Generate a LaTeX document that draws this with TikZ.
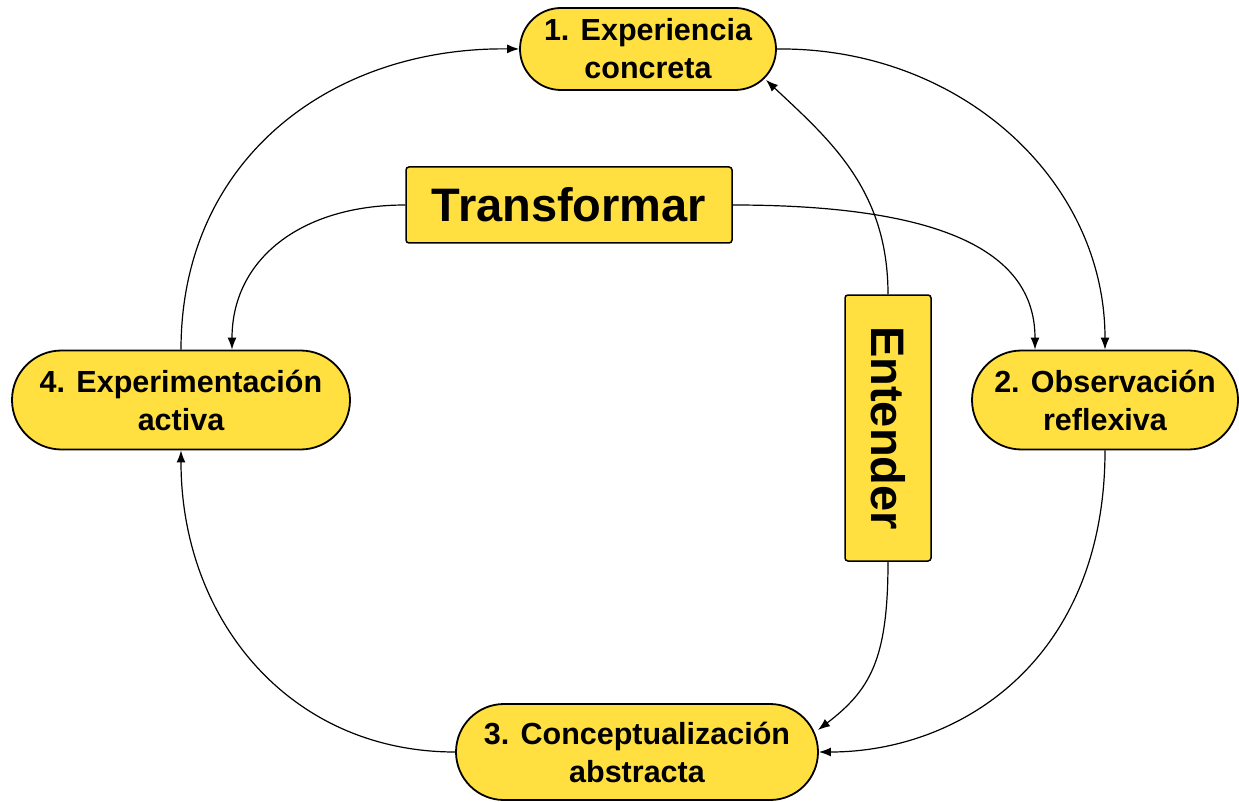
\documentclass[tikz,border=0pt]{standalone}
\usepackage{fontspec}
\setmainfont{Liberation Sans}
\usetikzlibrary{shapes.misc,arrows.meta}
\definecolor{pill}{RGB}{255,224,64}
\begin{document}
\begin{tikzpicture}[x=1pt,y=-1pt,
 pillbox/.style={rounded rectangle, draw=black, line width=1.8pt, fill=pill, align=center,
   font=\fontsize{30.5}{38}\selectfont\bfseries, inner sep=0pt},
 bigbox/.style={rectangle, rounded corners=3pt, draw=black, line width=1.5pt, fill=pill,
   font=\fontsize{47}{52}\selectfont\bfseries, inner sep=0pt},
 conn/.style={-{Latex[length=12pt,width=9pt]}, line width=1.2pt}]
\useasboundingbox (0,0) rectangle (1239,802);
\node[pillbox, minimum width=256pt, minimum height=82pt] (n1) at (648,49) {1. Experiencia\\concreta};
\node[pillbox, minimum width=266pt, minimum height=99pt] (n2) at (1105,400) {2. Observación\\reflexiva};
\node[pillbox, minimum width=362pt, minimum height=96pt] (n3) at (637,752) {3. Conceptualización\\abstracta};
\node[pillbox, minimum width=338pt, minimum height=99pt] (n4) at (181,400) {4. Experimentación\\activa};
\node[bigbox, minimum width=326pt, minimum height=76pt] (tr) at (569,205) {Transformar};
\node[bigbox, rotate=-90, minimum width=266pt, minimum height=86pt] (en) at (888,428) {Entender};

\draw[conn] (n4.north) .. controls (181,160) and (330,47) .. (n1.west);
\draw[conn] (n1.east) .. controls (960,47) and (1105,180) .. (n2.north);
\draw[conn] (n2.south) .. controls (1105,660) and (960,752) .. (n3.east);
\draw[conn] (n3.west) .. controls (290,752) and (181,620) .. (n4.south);
\draw[conn] (tr.west) .. controls (300,205) and (232,260) .. ([xshift=51pt]n4.north);
\draw[conn] (tr.east) .. controls (960,205) and (1035,260) .. ([xshift=-70pt]n2.north);
\draw[conn] (en.west) .. controls (888,190) and (830,140) .. ([xshift=118pt,yshift=-31pt]n1.center);
\draw[conn] (en.east) .. controls (888,660) and (870,690) .. ([xshift=181pt,yshift=22pt]n3.center);
\end{tikzpicture}
\end{document}
